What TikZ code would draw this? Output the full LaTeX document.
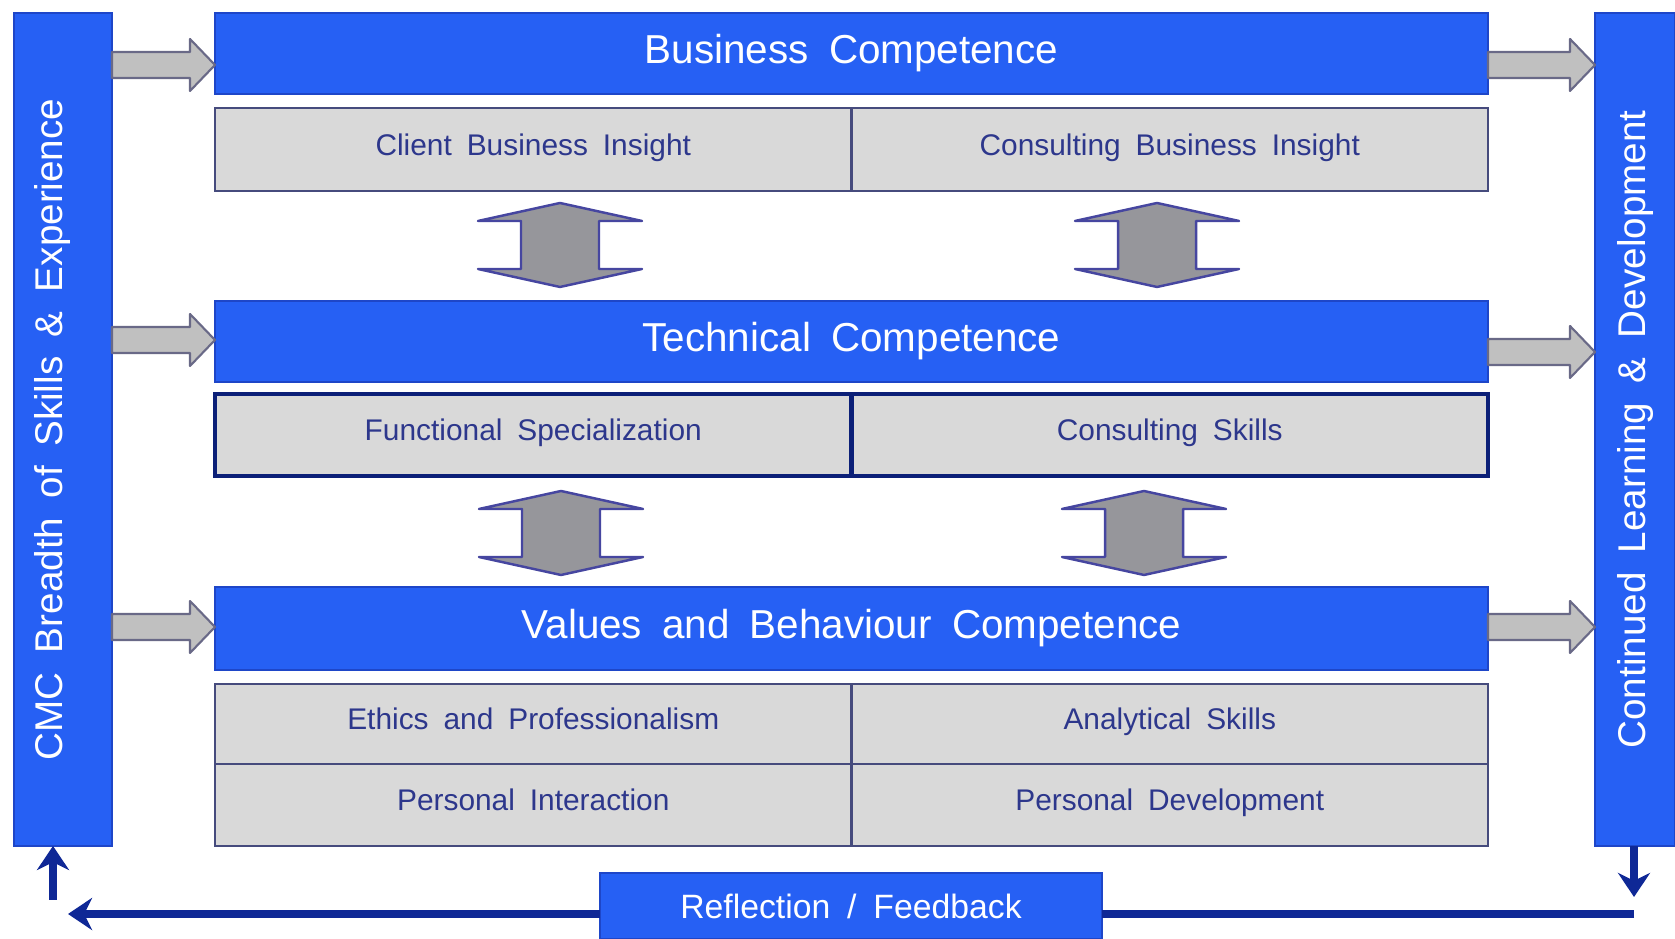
\documentclass[tikz,border=0pt]{standalone}
\usepackage{fontspec}
\setmainfont[WordSpace=1.8]{Liberation Sans}
\usetikzlibrary{positioning, arrows.meta}
\definecolor{cmcBlue}{RGB}{38,96,244}
\definecolor{cmcEdge}{RGB}{30,70,200}
\definecolor{boxGray}{RGB}{217,217,217}
\definecolor{boxEdge}{RGB}{70,75,125}
\definecolor{boxText}{RGB}{45,55,140}
\definecolor{fbNavy}{RGB}{15,40,150}
\definecolor{arrGray}{RGB}{192,192,192}
\definecolor{arrEdge}{RGB}{105,105,135}
\definecolor{dblGray}{RGB}{150,150,155}
\definecolor{dblEdge}{RGB}{70,70,160}
\tikzstyle{sidebar}  = [draw=cmcEdge, fill=cmcBlue, text=white, minimum height=8.33cm, inner sep=0pt, outer sep=0pt, anchor=north west, font=\fontsize{11}{13}\selectfont]
\tikzstyle{hdbox}    = [draw=cmcEdge, fill=cmcBlue, text=white, minimum width=12.73cm, minimum height=0.81cm, inner sep=0pt, outer sep=0pt, anchor=north west, font=\fontsize{11.5}{13}\selectfont]
\tikzstyle{subbox}   = [draw=boxEdge, line width=0.6pt, fill=boxGray, text=boxText, minimum width=6.365cm, minimum height=0.82cm, inner sep=0pt, outer sep=0pt, anchor=north west, text height=6.5pt, text depth=3.2pt, font=\fontsize{8.5}{10}\selectfont]
\tikzstyle{thickbox} = [draw=fbNavy!80!black, line width=1.3pt]
\tikzstyle{fbbox}    = [draw=cmcEdge, fill=cmcBlue, text=white, minimum width=5.02cm, minimum height=0.66cm, inner sep=0pt, outer sep=0pt, anchor=north west, font=\fontsize{9.6}{12}\selectfont]
\tikzstyle{sidearrow} = [draw=arrEdge, fill=arrGray, line width=0.6pt, line join=round]
\tikzstyle{dblarrow}  = [draw=dblEdge, fill=dblGray, line width=0.7pt, line join=round]
\tikzstyle{fbline}   = [draw=fbNavy, line width=2.3pt]
\tikzstyle{fbarrow}  = [fbline, -{Stealth[length=2.4mm, width=3.2mm]}]

\begin{document}
\begin{tikzpicture}
% canvas 16.75 x 9.39 (1px of the original = 0.01cm)
\useasboundingbox[fill=white] (0,0) rectangle (16.75,9.39);
% side bars
\node[sidebar, minimum width=0.98cm] (lbar) at (0.14,9.26) {\rotatebox{90}{CMC Breadth of Skills \& Experience}\hspace*{0.2cm}};
\node[sidebar, minimum width=0.80cm] (rbar) at (15.95,9.26) {\rotatebox{90}{Continued Learning \& Development}};
% business
\node[hdbox] (bushd) at (2.15,9.26) {Business Competence};
\node[subbox, minimum height=0.83cm] (cbi) at (2.15,8.31) {Client Business Insight};
\node[subbox, minimum height=0.83cm, right=0pt of cbi] (conbi) {Consulting Business Insight};
% technical
\node[hdbox] (techhd) at (2.15,6.38) {Technical Competence};
\node[subbox, thickbox] (fs) at (2.15,5.45) {Functional Specialization};
\node[subbox, thickbox, right=0pt of fs] (cs) {Consulting Skills};
% values
\node[hdbox, minimum height=0.83cm] (valhd) at (2.15,3.52) {Values and Behaviour Competence};
\node[subbox, minimum height=0.80cm] (eth) at (2.15,2.55) {Ethics and Professionalism};
\node[subbox, minimum height=0.80cm, right=0pt of eth] (ana) {Analytical Skills};
\node[subbox, below=0pt of eth] (pint) {Personal Interaction};
\node[subbox, right=0pt of pint] (pdev) {Personal Development};
% feedback
\node[fbbox] (fb) at (6.00,0.66) {Reflection / Feedback};
% up/down block arrows
\foreach \cx/\cy in {5.60/6.94, 11.57/6.94, 5.61/4.06, 11.44/4.06}
  \draw[dblarrow, shift={(\cx,\cy)}] (0,0.42) -- (0.82,0.24) -- (0.39,0.24) -- (0.39,-0.24) -- (0.82,-0.24)
    -- (0,-0.42) -- (-0.82,-0.24) -- (-0.39,-0.24) -- (-0.39,0.24) -- (-0.82,0.24) -- cycle;
% side block arrows
\foreach \yl/\yr in {8.74/8.74, 5.99/5.87, 3.12/3.12}{
  \draw[sidearrow] (1.12,\yl+0.13) -- ++(0.78,0) -- ++(0,0.13) -- ++(0.25,-0.26) -- ++(-0.25,-0.26) -- ++(0,0.13) -- ++(-0.78,0) -- cycle;
  \draw[sidearrow] (14.88,\yr+0.13) -- ++(0.82,0) -- ++(0,0.13) -- ++(0.25,-0.26) -- ++(-0.25,-0.26) -- ++(0,0.13) -- ++(-0.82,0) -- cycle;
}
% feedback loop
\coordinate (fbr) at (16.34,0.25);
\coordinate (fbl) at (0.68,0.25);
\coordinate (dntip) at (16.34,0.42);
\coordinate (uptail) at (0.53,0.39);
\draw[fbline] (fbr) -- (fb.east |- fbr);
\draw[fbarrow] (fb.west |- fbl) -- (fbl);
\draw[fbarrow] (rbar.south -| dntip) -- (dntip);
\draw[fbarrow] (uptail) -- (uptail |- lbar.south);
\end{tikzpicture}
\end{document}
